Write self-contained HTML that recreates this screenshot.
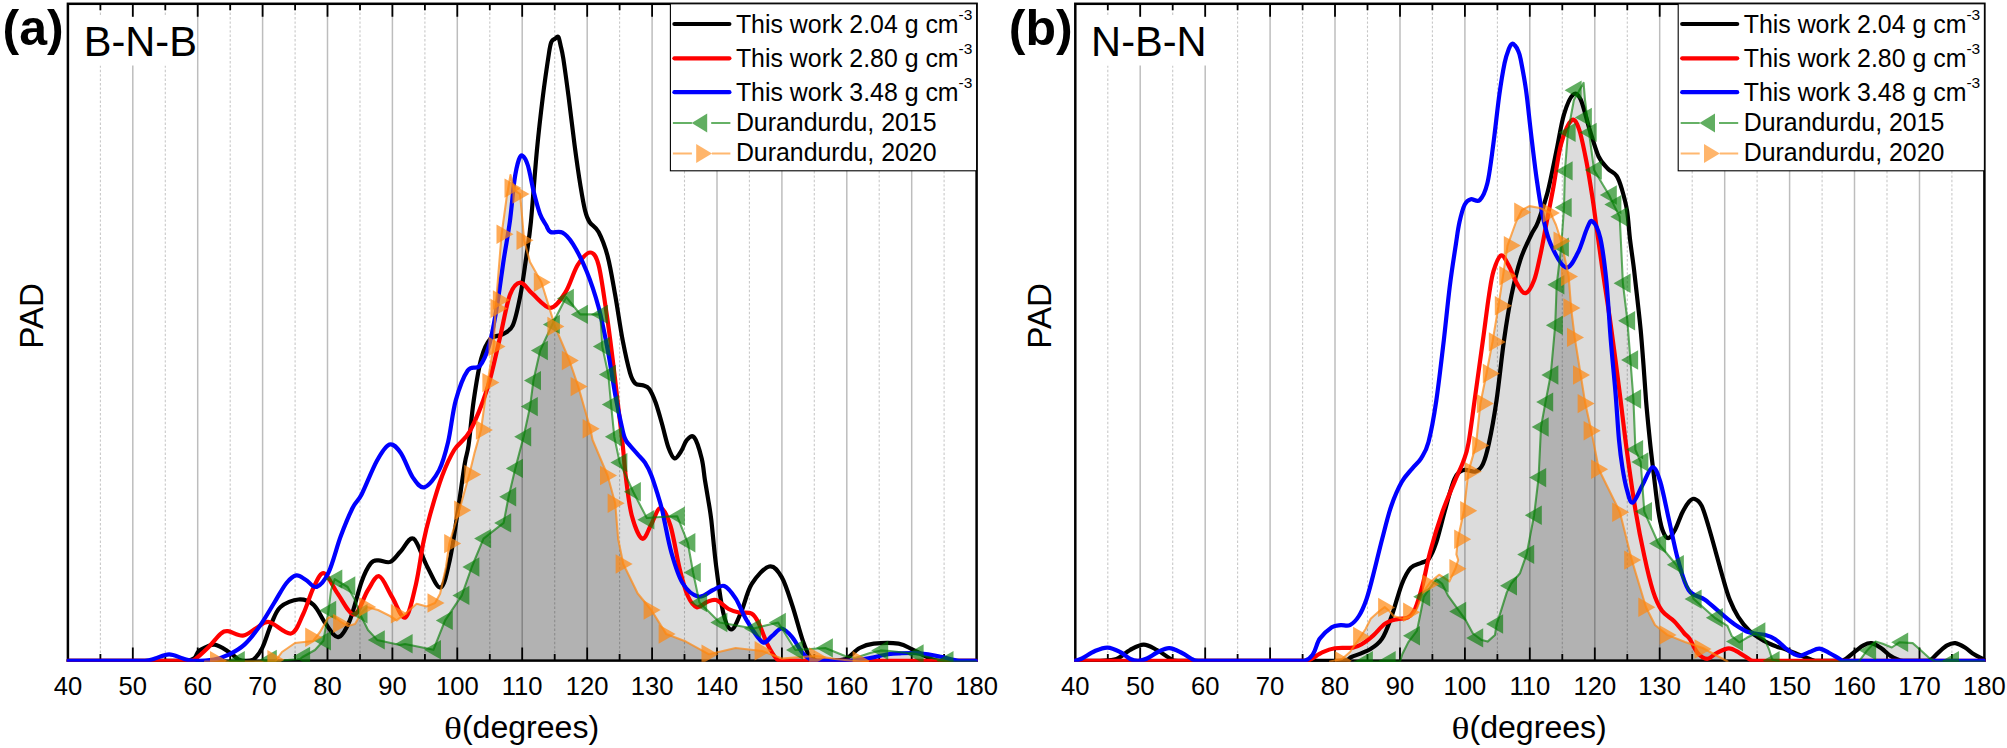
<!DOCTYPE html>
<html lang="en">
<head>
<meta charset="utf-8">
<title>Plane angle distributions: B-N-B and N-B-N</title>
<style>
html,body{margin:0;padding:0;background:#fff;}
body{width:2007px;height:748px;overflow:hidden;font-family:"Liberation Sans",Arial,sans-serif;}
svg{display:block;}
</style>
</head>
<body>
<svg width="2007" height="748" viewBox="0 0 2007 748" font-family="'Liberation Sans', Arial, sans-serif" fill="#000">
<rect width="2007" height="748" fill="#fff"/>
<g id="panel-a">
<clipPath id="clipOa"><path d="M205 661.5L240 661.5L275 661.5L282 652L295 643L313 641L320 632L328 618L334 616L341 622L348 626L355 624L362 612L367 607L378 610L390 616L396.7 620.4L405 614L416.7 603.7L426.8 606.4L435 603L440.1 593.7L446 567L449.3 543.6L459.3 510.2L469.3 474.4L474.4 453.4L481 430L487.5 382.6L493.6 346.5L495.6 308.4L501.6 234.2L507 195L510.5 175L514 190L520.1 194.1L524.1 240.2L530 262L541.4 282.3L555 326.4L569.4 360.5L578.3 386.6L590.3 428.7L592.6 440L607.6 475.5L615.2 503.2L618.2 539.3L623.3 564L637.7 593.5L651.3 610L666.3 634.1L685.9 641.6L709.1 654.3L735.6 648L762.2 651L781.7 658.6L800 657L816.9 656L835 659L860.2 661.5L868 661.5L868 660.8L205 660.8Z"/></clipPath>
<clipPath id="clipFa"><rect x="66.7" y="3.8" width="911.1" height="658"/></clipPath>
<path d="M205 661.5L240 661.5L275 661.5L282 652L295 643L313 641L320 632L328 618L334 616L341 622L348 626L355 624L362 612L367 607L378 610L390 616L396.7 620.4L405 614L416.7 603.7L426.8 606.4L435 603L440.1 593.7L446 567L449.3 543.6L459.3 510.2L469.3 474.4L474.4 453.4L481 430L487.5 382.6L493.6 346.5L495.6 308.4L501.6 234.2L507 195L510.5 175L514 190L520.1 194.1L524.1 240.2L530 262L541.4 282.3L555 326.4L569.4 360.5L578.3 386.6L590.3 428.7L592.6 440L607.6 475.5L615.2 503.2L618.2 539.3L623.3 564L637.7 593.5L651.3 610L666.3 634.1L685.9 641.6L709.1 654.3L735.6 648L762.2 651L781.7 658.6L800 657L816.9 656L835 659L860.2 661.5L868 661.5L868 660.8L205 660.8Z" fill="#dcdcdc"/>
<path d="M225 661.5L269 661.5L300 659L302.5 657L315 650L323.4 640.8L328.6 610.4L331 590L334.7 579.1L347.7 587L355 600L359.9 613.8L368 630L377.2 639.9L399.8 645L405 644L433.4 649.8L445.1 620.4L461.8 595.4L471.8 567L483.5 538.6L503.6 522.9L508.6 496.8L515.3 468.4L523.6 436.7L530.1 406.6L533.4 380.6L540.2 350.5L552.2 324.4L566.2 297L580.3 314.4L600.3 314.4L602.3 346.5L608.3 374.5L611.1 404.6L614.3 436.7L619.7 462.6L633.2 491.8L646.8 518L660 517L677.2 516.2L687.8 542.8L693.1 572.5L699.5 602.6L719.7 622.5L753.4 628.5L778.2 622.5L795.4 650L825.3 648L845 656L855 658L870 653L880.6 650.4L890 651L916 654L945.9 661.5L976 661.5L976 660.8L225 660.8Z" fill="#dcdcdc"/>
<path d="M225 661.5L269 661.5L300 659L302.5 657L315 650L323.4 640.8L328.6 610.4L331 590L334.7 579.1L347.7 587L355 600L359.9 613.8L368 630L377.2 639.9L399.8 645L405 644L433.4 649.8L445.1 620.4L461.8 595.4L471.8 567L483.5 538.6L503.6 522.9L508.6 496.8L515.3 468.4L523.6 436.7L530.1 406.6L533.4 380.6L540.2 350.5L552.2 324.4L566.2 297L580.3 314.4L600.3 314.4L602.3 346.5L608.3 374.5L611.1 404.6L614.3 436.7L619.7 462.6L633.2 491.8L646.8 518L660 517L677.2 516.2L687.8 542.8L693.1 572.5L699.5 602.6L719.7 622.5L753.4 628.5L778.2 622.5L795.4 650L825.3 648L845 656L855 658L870 653L880.6 650.4L890 651L916 654L945.9 661.5L976 661.5L976 660.8L225 660.8Z" fill="#b2b2b2" clip-path="url(#clipOa)"/>
<path d="M132.8 3.8V660.5M197.7 3.8V660.5M262.6 3.8V660.5M327.5 3.8V660.5M392.4 3.8V660.5M457.3 3.8V660.5M522.2 3.8V660.5M587.2 3.8V660.5M652.1 3.8V660.5M717 3.8V660.5M781.9 3.8V660.5M846.8 3.8V660.5M911.7 3.8V660.5" stroke="#000" stroke-opacity="0.26" stroke-width="1.5" fill="none"/>
<path d="M100.4 3.8V660.5M165.3 3.8V660.5M230.2 3.8V660.5M295.1 3.8V660.5M360 3.8V660.5M424.9 3.8V660.5M489.8 3.8V660.5M554.7 3.8V660.5M619.6 3.8V660.5M684.5 3.8V660.5M749.4 3.8V660.5M814.3 3.8V660.5M879.2 3.8V660.5M944.1 3.8V660.5" stroke="#000" stroke-opacity="0.22" stroke-width="1.1" stroke-dasharray="2.4 2" fill="none"/>
<rect x="81.9" y="17" width="114.7" height="48.5" fill="#fff"/>
<path d="M100.4 3.8v6.5M100.4 660.5v-6.5M132.8 3.8v13M132.8 660.5v-13M165.3 3.8v6.5M165.3 660.5v-6.5M197.7 3.8v13M197.7 660.5v-13M230.2 3.8v6.5M230.2 660.5v-6.5M262.6 3.8v13M262.6 660.5v-13M295.1 3.8v6.5M295.1 660.5v-6.5M327.5 3.8v13M327.5 660.5v-13M360 3.8v6.5M360 660.5v-6.5M392.4 3.8v13M392.4 660.5v-13M424.9 3.8v6.5M424.9 660.5v-6.5M457.3 3.8v13M457.3 660.5v-13M489.8 3.8v6.5M489.8 660.5v-6.5M522.2 3.8v13M522.2 660.5v-13M554.7 3.8v6.5M554.7 660.5v-6.5M587.2 3.8v13M587.2 660.5v-13M619.6 3.8v6.5M619.6 660.5v-6.5M652.1 3.8v13M652.1 660.5v-13M684.5 3.8v6.5M684.5 660.5v-6.5M717 3.8v13M717 660.5v-13M749.4 3.8v6.5M749.4 660.5v-6.5M781.9 3.8v13M781.9 660.5v-13M814.3 3.8v6.5M814.3 660.5v-6.5M846.8 3.8v13M846.8 660.5v-13M879.2 3.8v6.5M879.2 660.5v-6.5M911.7 3.8v13M911.7 660.5v-13M944.1 3.8v6.5M944.1 660.5v-6.5" stroke="#000" stroke-width="1.8" fill="none"/>
<rect x="67.9" y="3.8" width="908.7" height="656.8" fill="none" stroke="#000" stroke-width="2.5"/>
<rect x="670.4" y="3.8" width="306.2" height="167" fill="#fff" stroke="#000" stroke-width="1.1"/>
<g clip-path="url(#clipFa)" fill="none" stroke-linejoin="round" stroke-linecap="round">
<path d="M68 660.8C76.7 660.8 100.2 660.8 120 660.8C139.8 660.8 173.8 660.8 187 660.8C199.2 659.1 194.6 653.4 199.2 650.7C203.8 648 209.3 644.4 214.3 644.6C219.3 644.9 225.3 649.8 229.3 652.2C233.3 654.7 235.5 657.9 238.3 659.3C241.1 660.7 243.5 660.8 246 660.8C248.5 660.8 250.7 660.8 253.4 659.6C256.1 657.4 259.4 653.6 262.4 647.6C265.4 641.6 268.4 630.4 271.4 623.6C274.4 616.8 276 611 280.5 607C285 603 293 599.9 298.5 599.5C304 599.1 309.1 600.9 313.6 604.9C318.1 608.9 321.5 618.2 325.6 623.6C329.7 629 334.2 637.6 338.2 637.1C342.2 636.6 345.8 629.9 349.7 620.6C353.6 611.3 358.2 590.9 361.7 581.4C365.2 571.9 367.9 566.9 370.7 563.4C373.5 559.9 375 560.6 378.3 560.4C381.6 560.1 386.6 563.4 390.3 561.9C394.1 560.4 396.9 555.2 400.8 551.3C404.7 547.4 409.1 536.2 413.5 538.7C417.9 541.2 422.6 558.3 427.1 566.4C431.6 574.5 436.8 588.5 440.6 587.5C444.4 586.5 446.9 572.4 449.7 560.4C452.5 548.4 454.7 531.2 457.2 515.2C459.7 499.2 462.8 475.8 464.7 464.1C466.6 452.4 467.1 455.6 468.6 445C470.1 434.4 471.6 415 473.7 400.6C475.8 386.2 478.5 368.7 481.3 358.4C484.1 348.1 486.8 342.9 490.3 338.9C493.8 334.9 498.6 336.7 502.3 334.4C506.1 332.1 509.8 331.8 512.8 325.3C515.8 318.8 518.1 306.7 520.4 295.2C522.7 283.7 524.6 268.3 526.4 256.1C528.1 243.9 529.1 239.6 530.9 222C532.6 204.4 534.9 171.4 536.9 150.5C538.9 129.6 540.9 112.5 542.9 96.3C544.9 80 547.6 62.1 549 53C550.4 43.9 550.5 44.1 551.5 41.7C552.5 39.3 553.9 39.5 555 38.7C556.1 37.9 557.4 36 558.3 37C559.2 38 559.7 41.4 560.5 45C561.3 48.6 562 50 563.3 58.5C564.6 67 566.6 81.7 568.5 96C570.4 110.3 572.5 129.3 574.5 144.4C576.5 159.5 578.8 175.6 580.6 186.6C582.4 197.6 583.6 204.8 585.1 210.7C586.6 216.6 587.2 218.4 589.5 222C591.8 225.6 595.6 226.3 598.6 232C601.6 237.7 604.8 245.6 607.6 256.1C610.4 266.6 612.7 281.1 615.2 295.2C617.7 309.2 620.2 327.5 622.7 340.4C625.2 353.3 627.9 365.6 630 372.8C632.1 380 633.2 381.4 635.3 383.5C637.4 385.6 640.5 384.3 642.8 385.2C645.1 386.1 647.1 386 649.3 388.9C651.4 391.8 653.6 396.9 655.7 402.8C657.8 408.7 660 416.7 662.1 424.2C664.2 431.7 666.4 442 668.5 447.7C670.6 453.4 672.4 457.9 674.5 458.4C676.6 458.9 679.3 453.9 681.3 450.9C683.3 447.9 684.6 442.4 686.7 440.2C688.9 437.9 691.7 434.4 694.2 437.4C696.7 440.4 699.9 451.3 701.7 458.4C703.5 465.5 703.8 473 704.9 479.8C706 486.6 707 492.3 708.1 499C709.2 505.7 709.9 508.8 711.3 520C712.6 531.2 714.2 551.1 716.2 566.5C718.2 581.9 720.7 602 723.2 612.5C725.7 623 728.4 629.5 731.4 629.5C734.4 629.5 737.6 620 741 612.5C744.4 605 746.9 591.9 751.6 584.2C756.3 576.5 764.3 567.7 769.3 566.5C774.3 565.3 777.9 570.6 781.7 577.1C785.5 583.6 788.8 594.9 792.3 605.5C795.8 616.1 799.9 632.4 802.9 640.9C805.9 649.4 807.6 653.5 810 656.8C812.4 660.1 813.7 660.1 817 660.8C820.3 660.8 825.2 660.8 830 660.8C834.8 660.5 840.6 660.8 845.5 659C850.4 656.9 854.9 650.5 859.6 648C864.3 645.5 867.3 644.4 873.8 643.7C880.3 643 892.1 642.7 898.6 643.7C905.1 644.7 907.5 647.2 912.8 649.7C918.1 652.2 926 656.8 930.5 658.6C935 660.5 932.4 660.4 940 660.8C947.6 660.8 970 660.8 976 660.8" stroke="#000" stroke-width="4.2"/>
<path d="M68 660.8C80 660.8 120 660.8 140 660.8C160 660.8 178.9 660.8 188 660.8C194.7 660.6 191.3 660.8 194.7 659.5C198.1 657.3 203.9 651.8 208.2 647.6C212.5 643.4 217 636.9 220.3 634.1C223.6 631.4 224.1 630.9 227.8 631.1C231.6 631.4 238 636.1 242.8 635.6C247.6 635.1 252 630.4 256.4 628.1C260.8 625.8 263.2 621.1 269 622C274.8 622.9 285.3 634.8 291 633.5C296.7 632.2 299.2 622.2 303 614.5C306.8 606.8 310.1 594.4 313.6 587.5C317.1 580.6 320.1 572.3 324.1 573.3C328.1 574.3 332.6 586.6 337.6 593.5C342.6 600.4 349.2 615 354.2 614.5C359.2 614 363.5 596.9 367.7 590.5C371.9 584.1 375.2 575.3 379.2 576.3C383.2 577.3 387.4 589.6 391.8 596.5C396.2 603.4 401.3 619.5 405.3 617.5C409.3 615.5 412.9 596.9 415.9 584.4C418.9 571.9 421 553.9 423.4 542.3C425.8 530.7 426.9 526 430 515C433.1 504 438.1 486.9 442.1 476.1C446.1 465.3 449.6 457.5 454.2 450C458.8 442.5 464.5 441.2 470 431C475.5 420.8 482.4 403.6 487.3 388.5C492.2 373.4 495.6 355.9 499.3 340.4C503.1 324.8 506.3 304.8 509.8 295.2C513.3 285.6 516.6 282.9 520.4 282.6C524.2 282.4 527.4 289.5 532.4 293.7C537.4 297.9 545 308.1 550.5 307.9C556 307.6 561 299.3 565.5 292.2C570 285.1 573.5 271.7 577.6 265.1C581.7 258.5 586.7 252.5 590.2 252.5C593.7 252.5 596 255.5 598.6 265.1C601.2 274.7 603.8 295.2 606.1 310.3C608.4 325.4 610.2 339.3 612.2 355.4C614.2 371.4 616.5 391.7 618.2 406.6C620 421.5 621.5 433.4 622.7 445C624 456.6 624.2 464.4 625.7 476.1C627.2 487.8 629 504.8 631.7 515.2C634.5 525.6 638.9 537.2 642.2 538.7C645.5 540.2 648.2 529.4 651.3 524.3C654.3 519.2 657.3 507.8 660.5 508C663.7 508.2 667.2 515.5 670.4 525.5C673.6 535.5 676.6 556.3 679.5 568C682.4 579.7 684.7 589 687.6 595.5C690.5 602 693.5 606.1 696.7 607.2C699.9 608.3 703.8 603.2 707 602C710.2 600.8 712.6 598.9 716.2 600.1C719.8 601.3 724.8 606.9 728.6 609C732.4 611.1 735.4 611.7 739.2 612.5C743 613.3 748.4 611.8 751.6 613.6C754.9 615.4 756.1 618.1 758.7 623.2C761.4 628.3 764.5 638.5 767.5 644.4C770.5 650.3 774 655.9 776.4 658.6C778.8 660.8 777.8 660.4 781.7 660.8C785.6 660.8 781.7 660.8 800 660.8C832.4 660.8 946.7 660.8 976 660.8" stroke="#f00" stroke-width="4.2"/>
<path d="M68 660.8C76.7 660.8 107.2 660.8 120 660.8C132.8 660.8 139.2 660.8 145 660.8C150.8 660.4 151 659.6 155 658.5C159 657.4 164.4 654.3 169.1 654.3C173.8 654.3 179 657.4 183 658.5C187 659.6 187.8 660.6 193 660.8C198.2 660.8 207.9 660.6 214 659.5C220.1 658.4 224.2 656.8 229.3 654.3C234.4 651.8 239.4 649.2 244.4 644.6C249.4 640 254.4 633.6 259.4 626.6C264.4 619.6 269.9 609.8 274.4 602.5C278.9 595.2 282.8 587.5 286.5 583C290.2 578.5 293.1 575.9 296.4 575.4C299.6 574.9 302.6 578.1 306 580C309.4 581.9 312.8 588.2 316.6 586.9C320.4 585.6 324.6 580.8 328.6 572.4C332.6 564 336.7 547.1 340.7 536.3C344.7 525.5 349.2 514.7 352.7 507.7C356.2 500.7 357.7 502 361.7 494.2C365.7 486.4 372.2 469.3 376.8 461C381.4 452.7 385.4 445.8 389.4 444.5C393.4 443.2 396.9 447.5 400.8 453C404.7 458.5 408.9 471.9 412.9 477.6C416.8 483.3 420.1 488.4 424.5 487.2C428.9 485.9 435.2 477.6 439.1 470.1C443 462.6 445.3 453.6 448.1 442C450.9 430.4 452.4 412.5 455.7 400.6C459 388.7 463.7 376.3 467.7 370.5C471.7 364.7 476.2 370 479.7 366C483.2 362 486 355.7 488.8 346.4C491.6 337.1 493.8 324.9 496.3 310.3C498.8 295.8 501.6 273.8 503.8 259.1C506.1 244.4 508 235.1 509.8 222C511.6 208.9 512.9 191 514.4 180.6C515.9 170.2 517.5 163.6 518.9 159.5C520.3 155.4 521.3 154.9 522.8 155.9C524.3 156.9 526 159.4 527.9 165.5C529.8 171.6 531.9 184.6 533.9 192.6C535.9 200.6 537.9 208.3 539.9 213.7C541.9 219.1 544.2 221.9 546 225C547.8 228.1 547.8 230.7 550.5 232C553.2 233.3 558.8 230.6 562.5 232.6C566.2 234.6 569 237.7 573 244.1C577 250.5 582.3 260.7 586.6 271.2C590.9 281.7 595.1 294.3 598.6 307.3C602.1 320.3 604.8 334.9 607.6 349.4C610.4 363.9 612.7 380.9 615.2 394.5C617.7 408.1 620.9 423 622.7 430.7C624.5 438.4 624.8 438 626 440.5C627.2 443 628.1 443.3 630 445.6C631.9 447.9 635 451.2 637.5 454.1C640 457 642.7 459.1 645 462.7C647.3 466.3 649.3 470.1 651.4 475.5C653.5 480.9 656 489.1 657.8 494.8C659.6 500.5 661 505.5 662.1 509.7C663.2 513.9 662.6 512.8 664.2 520C665.8 527.2 668.5 542.5 671.5 553C674.5 563.5 678 575.7 682.5 583C687 590.3 693.3 595.4 698.4 596.6C703.5 597.8 708.7 591.8 713 590C717.3 588.2 720.5 584.6 724.3 586C728.1 587.4 731.9 592.8 735.6 598.4C739.3 604 741.9 612.4 746.3 619.6C750.7 626.9 757.9 639.2 762.2 641.9C766.5 644.6 768.8 638.2 772 636C775.2 633.8 778.3 628.3 781.7 628.5C785.1 628.7 788.8 633.2 792.3 637.3C795.8 641.4 799.3 649.4 802.9 653.3C806.5 657.2 809.1 659.5 813.6 660.8C818.1 660.8 823.9 660.8 830 660.8C836.1 660.8 843.3 660.8 850 660.8C856.7 660.3 863.7 659.1 870 658C876.3 656.9 883 655.1 888 654.3C893 653.5 894.7 653.5 900 653.3C905.3 653.1 913.2 652.7 920 653.3C926.8 653.9 934.5 655.5 941 656.8C947.5 658 953 660.1 958.8 660.8C964.6 660.8 973.1 660.8 976 660.8" stroke="#00f" stroke-width="4.2"/>
<path d="M225 661.5L269 661.5L300 659L302.5 657L315 650L323.4 640.8L328.6 610.4L331 590L334.7 579.1L347.7 587L355 600L359.9 613.8L368 630L377.2 639.9L399.8 645L405 644L433.4 649.8L445.1 620.4L461.8 595.4L471.8 567L483.5 538.6L503.6 522.9L508.6 496.8L515.3 468.4L523.6 436.7L530.1 406.6L533.4 380.6L540.2 350.5L552.2 324.4L566.2 297L580.3 314.4L600.3 314.4L602.3 346.5L608.3 374.5L611.1 404.6L614.3 436.7L619.7 462.6L633.2 491.8L646.8 518L660 517L677.2 516.2L687.8 542.8L693.1 572.5L699.5 602.6L719.7 622.5L753.4 628.5L778.2 622.5L795.4 650L825.3 648L845 656L855 658L870 653L880.6 650.4L890 651L916 654L945.9 661.5L976 661.5" stroke="#007d00" stroke-opacity="0.62" stroke-width="2.1"/>
<path d="M205 661.5L240 661.5L275 661.5L282 652L295 643L313 641L320 632L328 618L334 616L341 622L348 626L355 624L362 612L367 607L378 610L390 616L396.7 620.4L405 614L416.7 603.7L426.8 606.4L435 603L440.1 593.7L446 567L449.3 543.6L459.3 510.2L469.3 474.4L474.4 453.4L481 430L487.5 382.6L493.6 346.5L495.6 308.4L501.6 234.2L507 195L510.5 175L514 190L520.1 194.1L524.1 240.2L530 262L541.4 282.3L555 326.4L569.4 360.5L578.3 386.6L590.3 428.7L592.6 440L607.6 475.5L615.2 503.2L618.2 539.3L623.3 564L637.7 593.5L651.3 610L666.3 634.1L685.9 641.6L709.1 654.3L735.6 648L762.2 651L781.7 658.6L800 657L816.9 656L835 659L860.2 661.5L868 661.5" stroke="#ff8810" stroke-opacity="0.7" stroke-width="2.1"/>
<g fill="#007d00" fill-opacity="0.62" stroke="none">
<path d="M227.8 660.8L244.8 651.1L244.8 670.5Z"/>
<path d="M259.8 659.5L276.8 649.8L276.8 669.2Z"/>
<path d="M293.1 656.5L310.1 646.8L310.1 666.2Z"/>
<path d="M314 640.8L331 631.1L331 650.5Z"/>
<path d="M319.2 610.4L336.2 600.7L336.2 620.1Z"/>
<path d="M325.3 579.1L342.3 569.4L342.3 588.8Z"/>
<path d="M338.3 586L355.3 576.3L355.3 595.7Z"/>
<path d="M350.5 613.8L367.5 604.1L367.5 623.5Z"/>
<path d="M367.8 639.9L384.8 630.2L384.8 649.6Z"/>
<path d="M395.6 643.8L412.6 634.1L412.6 653.5Z"/>
<path d="M424 649.8L441 640.1L441 659.5Z"/>
<path d="M435.8 620.4L452.8 610.7L452.8 630.1Z"/>
<path d="M452.4 595.4L469.4 585.7L469.4 605.1Z"/>
<path d="M462.4 567L479.4 557.3L479.4 576.7Z"/>
<path d="M474.1 538.6L491.1 528.9L491.1 548.3Z"/>
<path d="M494.2 522.9L511.2 513.2L511.2 532.6Z"/>
<path d="M499.2 496.8L516.2 487.1L516.2 506.5Z"/>
<path d="M505.9 468.4L522.9 458.7L522.9 478.1Z"/>
<path d="M514.2 436.7L531.2 427L531.2 446.4Z"/>
<path d="M520.8 406.6L537.8 396.9L537.8 416.3Z"/>
<path d="M524 380.6L541 370.9L541 390.3Z"/>
<path d="M530.9 350.5L547.9 340.8L547.9 360.2Z"/>
<path d="M542.9 324.4L559.9 314.7L559.9 334.1Z"/>
<path d="M556.9 298.4L573.9 288.7L573.9 308.1Z"/>
<path d="M570.9 314.4L587.9 304.7L587.9 324.1Z"/>
<path d="M590.9 314.4L607.9 304.7L607.9 324.1Z"/>
<path d="M592.9 346.5L609.9 336.8L609.9 356.2Z"/>
<path d="M598.9 374.5L615.9 364.8L615.9 384.2Z"/>
<path d="M601.8 404.6L618.8 394.9L618.8 414.3Z"/>
<path d="M604.9 436.7L621.9 427L621.9 446.4Z"/>
<path d="M610.4 462.6L627.4 452.9L627.4 472.3Z"/>
<path d="M623.9 491.8L640.9 482.1L640.9 501.5Z"/>
<path d="M637.4 519.7L654.4 510L654.4 529.4Z"/>
<path d="M667.9 516.2L684.9 506.5L684.9 525.9Z"/>
<path d="M678.4 542.8L695.4 533.1L695.4 552.5Z"/>
<path d="M683.8 572.5L700.8 562.8L700.8 582.2Z"/>
<path d="M690.1 602.6L707.1 592.9L707.1 612.3Z"/>
<path d="M710.4 622.5L727.4 612.8L727.4 632.2Z"/>
<path d="M744 628.5L761 618.8L761 638.2Z"/>
<path d="M768.9 622.5L785.9 612.8L785.9 632.2Z"/>
<path d="M786 650L803 640.3L803 659.7Z"/>
<path d="M815.9 647.9L832.9 638.2L832.9 657.6Z"/>
<path d="M871.2 650.4L888.2 640.7L888.2 660.1Z"/>
<path d="M906.6 654L923.6 644.3L923.6 663.7Z"/>
<path d="M936.5 660.8L953.5 651.1L953.5 670.5Z"/>
</g>
<g fill="#ff8810" fill-opacity="0.7" stroke="none">
<path d="M227 660.8L210 651.1L210 670.5Z"/>
<path d="M284.4 659.8L267.4 650.1L267.4 669.5Z"/>
<path d="M322.2 637.3L305.2 627.6L305.2 647Z"/>
<path d="M350.1 623.4L333.1 613.7L333.1 633.1Z"/>
<path d="M376.2 606.9L359.2 597.2L359.2 616.6Z"/>
<path d="M407.8 613.7L390.8 604L390.8 623.4Z"/>
<path d="M444.5 603L427.5 593.3L427.5 612.7Z"/>
<path d="M461.2 543.6L444.2 533.9L444.2 553.3Z"/>
<path d="M471.2 510.2L454.2 500.5L454.2 519.9Z"/>
<path d="M481.2 474.4L464.2 464.7L464.2 484.1Z"/>
<path d="M492.9 430L475.9 420.3L475.9 439.7Z"/>
<path d="M499.4 382.6L482.4 372.9L482.4 392.3Z"/>
<path d="M505.5 346.5L488.5 336.8L488.5 356.2Z"/>
<path d="M507.5 308.4L490.5 298.7L490.5 318.1Z"/>
<path d="M509.9 300L492.9 290.3L492.9 309.7Z"/>
<path d="M513.5 234.2L496.5 224.5L496.5 243.9Z"/>
<path d="M521.5 188.1L504.5 178.4L504.5 197.8Z"/>
<path d="M529.5 194.1L512.5 184.4L512.5 203.8Z"/>
<path d="M533.5 240.2L516.5 230.5L516.5 249.9Z"/>
<path d="M550.8 282.3L533.8 272.6L533.8 292Z"/>
<path d="M564.4 326.4L547.4 316.7L547.4 336.1Z"/>
<path d="M578.8 360.5L561.8 350.8L561.8 370.2Z"/>
<path d="M587.6 386.6L570.6 376.9L570.6 396.3Z"/>
<path d="M599.6 428.7L582.6 419L582.6 438.4Z"/>
<path d="M617 475.5L600 465.8L600 485.2Z"/>
<path d="M624.6 503.2L607.6 493.5L607.6 512.9Z"/>
<path d="M632.6 564L615.6 554.3L615.6 573.7Z"/>
<path d="M660.6 610L643.6 600.3L643.6 619.7Z"/>
<path d="M675.6 634.1L658.6 624.4L658.6 643.8Z"/>
<path d="M718.5 654.3L701.5 644.6L701.5 664Z"/>
<path d="M771.6 650.8L754.6 641.1L754.6 660.5Z"/>
<path d="M826.2 657L809.2 647.3L809.2 666.7Z"/>
<path d="M869.6 660.8L852.6 651.1L852.6 670.5Z"/>
</g>
</g>
<path d="M674.4 24H729.4" stroke="#000" stroke-width="4.2" stroke-linecap="round"/>
<path d="M674.4 58.3H729.4" stroke="#f00" stroke-width="4.2" stroke-linecap="round"/>
<path d="M674.4 92.2H729.4" stroke="#00f" stroke-width="4.2" stroke-linecap="round"/>
<path d="M672.9 123H691.9M711.2 123H730.4" stroke="#007d00" stroke-opacity="0.6" stroke-width="1.8"/>
<path d="M691.7 123L707.2 113.4L707.2 132.6Z" fill="#007d00" fill-opacity="0.62"/>
<path d="M672.9 153.5H691.9M711.9 153.5H730.4" stroke="#ff8810" stroke-opacity="0.6" stroke-width="1.8"/>
<path d="M712 153.5L696.2 143.9L696.2 163.1Z" fill="#ff8810" fill-opacity="0.62"/>
<text x="735.9" y="32.6" font-size="24.9">This work 2.04 g cm<tspan font-size="15.5" dy="-12.3">-3</tspan></text>
<text x="735.9" y="66.6" font-size="24.9">This work 2.80 g cm<tspan font-size="15.5" dy="-12.3">-3</tspan></text>
<text x="735.9" y="100.5" font-size="24.9">This work 3.48 g cm<tspan font-size="15.5" dy="-12.3">-3</tspan></text>
<text x="735.9" y="130.6" font-size="24.9">Durandurdu, 2015</text>
<text x="735.9" y="161.2" font-size="24.9">Durandurdu, 2020</text>
<text x="67.9" y="694.8" font-size="25.6" text-anchor="middle">40</text>
<text x="132.8" y="694.8" font-size="25.6" text-anchor="middle">50</text>
<text x="197.7" y="694.8" font-size="25.6" text-anchor="middle">60</text>
<text x="262.6" y="694.8" font-size="25.6" text-anchor="middle">70</text>
<text x="327.5" y="694.8" font-size="25.6" text-anchor="middle">80</text>
<text x="392.4" y="694.8" font-size="25.6" text-anchor="middle">90</text>
<text x="457.3" y="694.8" font-size="25.6" text-anchor="middle">100</text>
<text x="522.2" y="694.8" font-size="25.6" text-anchor="middle">110</text>
<text x="587.2" y="694.8" font-size="25.6" text-anchor="middle">120</text>
<text x="652.1" y="694.8" font-size="25.6" text-anchor="middle">130</text>
<text x="717" y="694.8" font-size="25.6" text-anchor="middle">140</text>
<text x="781.9" y="694.8" font-size="25.6" text-anchor="middle">150</text>
<text x="846.8" y="694.8" font-size="25.6" text-anchor="middle">160</text>
<text x="911.7" y="694.8" font-size="25.6" text-anchor="middle">170</text>
<text x="976.6" y="694.8" font-size="25.6" text-anchor="middle">180</text>
<text transform="translate(443.9 738.9) scale(1.17 1)" font-size="32" font-family="'Liberation Serif', serif">θ</text>
<text x="461.9" y="738.3" font-size="32.1">(degrees)</text>
<text transform="translate(43.3 315.9) rotate(-90)" font-size="33.2" text-anchor="middle">PAD</text>
<text x="63.7" y="45" font-size="50" font-weight="bold" text-anchor="end">(a)</text>
<text x="83.7" y="56.2" font-size="41.6">B-N-B</text>
</g>
<g id="panel-b">
<clipPath id="clipOb"><path d="M1330 661.5L1342 659L1350 652L1361 636L1365.6 629L1370.7 618.8L1378.8 611.5L1384.7 607L1389.1 610.7L1393.5 615.9L1402.4 618.8L1411.2 616.6L1417 608.5L1422.9 592.4L1430.3 582L1439.1 574.7L1445 578.4L1449.4 581.3L1455.3 568.8L1458.2 560L1456.4 554.4L1457.9 539.3L1463.9 510.7L1468.4 471.6L1475.9 445.4L1480.4 403.6L1486.5 373.5L1492.5 341.9L1498.5 305.8L1503 275.7L1507.5 245.6L1516 222L1521.9 210L1529.4 206.1L1540 208L1550.5 213L1556 225L1561.2 241.1L1568.7 276.6L1571.1 307.9L1574.7 337.4L1580.7 375L1585.3 403.6L1591.3 430.7L1598.8 469.2L1610 492L1619.9 512.2L1631.9 560.4L1646 607.2L1655 625L1667.3 634.9L1685 642L1702.7 648L1727.5 661.5L1727.5 660.8L1330 660.8Z"/></clipPath>
<clipPath id="clipFb"><rect x="1074.1" y="3.8" width="911.5" height="658"/></clipPath>
<path d="M1330 661.5L1342 659L1350 652L1361 636L1365.6 629L1370.7 618.8L1378.8 611.5L1384.7 607L1389.1 610.7L1393.5 615.9L1402.4 618.8L1411.2 616.6L1417 608.5L1422.9 592.4L1430.3 582L1439.1 574.7L1445 578.4L1449.4 581.3L1455.3 568.8L1458.2 560L1456.4 554.4L1457.9 539.3L1463.9 510.7L1468.4 471.6L1475.9 445.4L1480.4 403.6L1486.5 373.5L1492.5 341.9L1498.5 305.8L1503 275.7L1507.5 245.6L1516 222L1521.9 210L1529.4 206.1L1540 208L1550.5 213L1556 225L1561.2 241.1L1568.7 276.6L1571.1 307.9L1574.7 337.4L1580.7 375L1585.3 403.6L1591.3 430.7L1598.8 469.2L1610 492L1619.9 512.2L1631.9 560.4L1646 607.2L1655 625L1667.3 634.9L1685 642L1702.7 648L1727.5 661.5L1727.5 660.8L1330 660.8Z" fill="#dcdcdc"/>
<path d="M1355 661.5L1400 661.5L1402.4 654L1408.2 642.4L1417 630.6L1421.5 608.5L1423.7 596.8L1428.8 589.4L1436.2 579.1L1442 583.5L1447.9 595.3L1455.3 605.6L1464.9 618.8L1472.9 633.5L1481.8 640.1L1487.6 641.6L1495 635L1496.5 624.7L1499.4 615.9L1506.8 592.4L1511.2 583.5L1520 573.2L1526.6 554.4L1534.1 515.2L1538.6 477.6L1541 427L1545.5 402.1L1550.7 375L1555.2 325.3L1556.7 284.7L1561.2 247.1L1564 207.6L1564.9 170.9L1567.9 132.4L1573.9 100L1583.6 82.8L1585 100L1589 132.4L1594.1 170L1603 185L1609.1 195L1613.7 204.6L1619.7 216.7L1622.9 283.2L1627.4 320.8L1630.4 360L1633.4 399L1635.4 449.6L1640.7 462L1644.3 511.6L1658.4 543.5L1676.2 564.7L1693.9 599.1L1715 618L1727.4 625.9L1731.9 636.3L1739.3 642.3L1746.8 637.8L1755.8 633.3L1764.7 639.3L1769.2 649.8L1772.2 659.5L1780 661.5L1858.9 661.5L1866.4 651.3L1875.4 641.6L1882.8 643.8L1891.8 647.5L1899.3 642.3L1912.7 643.1L1920.2 649.8L1929.2 658L1935 661.5L1984 661.5L1984 660.8L1355 660.8Z" fill="#dcdcdc"/>
<path d="M1355 661.5L1400 661.5L1402.4 654L1408.2 642.4L1417 630.6L1421.5 608.5L1423.7 596.8L1428.8 589.4L1436.2 579.1L1442 583.5L1447.9 595.3L1455.3 605.6L1464.9 618.8L1472.9 633.5L1481.8 640.1L1487.6 641.6L1495 635L1496.5 624.7L1499.4 615.9L1506.8 592.4L1511.2 583.5L1520 573.2L1526.6 554.4L1534.1 515.2L1538.6 477.6L1541 427L1545.5 402.1L1550.7 375L1555.2 325.3L1556.7 284.7L1561.2 247.1L1564 207.6L1564.9 170.9L1567.9 132.4L1573.9 100L1583.6 82.8L1585 100L1589 132.4L1594.1 170L1603 185L1609.1 195L1613.7 204.6L1619.7 216.7L1622.9 283.2L1627.4 320.8L1630.4 360L1633.4 399L1635.4 449.6L1640.7 462L1644.3 511.6L1658.4 543.5L1676.2 564.7L1693.9 599.1L1715 618L1727.4 625.9L1731.9 636.3L1739.3 642.3L1746.8 637.8L1755.8 633.3L1764.7 639.3L1769.2 649.8L1772.2 659.5L1780 661.5L1858.9 661.5L1866.4 651.3L1875.4 641.6L1882.8 643.8L1891.8 647.5L1899.3 642.3L1912.7 643.1L1920.2 649.8L1929.2 658L1935 661.5L1984 661.5L1984 660.8L1355 660.8Z" fill="#b2b2b2" clip-path="url(#clipOb)"/>
<path d="M1140.2 3.8V660.5M1205.2 3.8V660.5M1270.1 3.8V660.5M1335 3.8V660.5M1400 3.8V660.5M1464.9 3.8V660.5M1529.8 3.8V660.5M1594.8 3.8V660.5M1659.7 3.8V660.5M1724.7 3.8V660.5M1789.6 3.8V660.5M1854.5 3.8V660.5M1919.5 3.8V660.5" stroke="#000" stroke-opacity="0.26" stroke-width="1.5" fill="none"/>
<path d="M1107.8 3.8V660.5M1172.7 3.8V660.5M1237.6 3.8V660.5M1302.6 3.8V660.5M1367.5 3.8V660.5M1432.4 3.8V660.5M1497.4 3.8V660.5M1562.3 3.8V660.5M1627.3 3.8V660.5M1692.2 3.8V660.5M1757.1 3.8V660.5M1822.1 3.8V660.5M1887 3.8V660.5M1951.9 3.8V660.5" stroke="#000" stroke-opacity="0.22" stroke-width="1.1" stroke-dasharray="2.4 2" fill="none"/>
<rect x="1089.3" y="17" width="117.5" height="48.5" fill="#fff"/>
<path d="M1107.8 3.8v6.5M1107.8 660.5v-6.5M1140.2 3.8v13M1140.2 660.5v-13M1172.7 3.8v6.5M1172.7 660.5v-6.5M1205.2 3.8v13M1205.2 660.5v-13M1237.6 3.8v6.5M1237.6 660.5v-6.5M1270.1 3.8v13M1270.1 660.5v-13M1302.6 3.8v6.5M1302.6 660.5v-6.5M1335 3.8v13M1335 660.5v-13M1367.5 3.8v6.5M1367.5 660.5v-6.5M1400 3.8v13M1400 660.5v-13M1432.4 3.8v6.5M1432.4 660.5v-6.5M1464.9 3.8v13M1464.9 660.5v-13M1497.4 3.8v6.5M1497.4 660.5v-6.5M1529.8 3.8v13M1529.8 660.5v-13M1562.3 3.8v6.5M1562.3 660.5v-6.5M1594.8 3.8v13M1594.8 660.5v-13M1627.3 3.8v6.5M1627.3 660.5v-6.5M1659.7 3.8v13M1659.7 660.5v-13M1692.2 3.8v6.5M1692.2 660.5v-6.5M1724.7 3.8v13M1724.7 660.5v-13M1757.1 3.8v6.5M1757.1 660.5v-6.5M1789.6 3.8v13M1789.6 660.5v-13M1822.1 3.8v6.5M1822.1 660.5v-6.5M1854.5 3.8v13M1854.5 660.5v-13M1887 3.8v6.5M1887 660.5v-6.5M1919.5 3.8v13M1919.5 660.5v-13M1951.9 3.8v6.5M1951.9 660.5v-6.5" stroke="#000" stroke-width="1.8" fill="none"/>
<rect x="1075.3" y="3.8" width="909.1" height="656.8" fill="none" stroke="#000" stroke-width="2.5"/>
<rect x="1678.2" y="3.8" width="306.2" height="167" fill="#fff" stroke="#000" stroke-width="1.1"/>
<g clip-path="url(#clipFb)" fill="none" stroke-linejoin="round" stroke-linecap="round">
<path d="M1075 660.8C1079.2 660.8 1093.1 660.8 1100 660.8C1106.9 660.5 1111.6 660.8 1116.6 659C1121.6 657.2 1125.5 652.4 1130 650C1134.5 647.6 1139.2 644.6 1143.7 644.6C1148.2 644.6 1152.7 647.8 1157 650C1161.3 652.2 1165.8 656.2 1169.3 658C1172.8 659.8 1169.3 660.3 1178 660.8C1191.5 660.8 1223 660.8 1250 660.8C1277 660.8 1323 660.8 1340 660.8C1352 660.1 1347 658.6 1352 656.7C1357 654.8 1365.1 652.2 1370.1 649.2C1375.1 646.2 1378.6 643.9 1382.1 638.6C1385.6 633.3 1387.9 626.5 1391.2 617.5C1394.5 608.5 1398.5 592.7 1401.7 584.4C1405 576.1 1407.4 571.5 1410.7 567.9C1414 564.3 1418.3 564.3 1421.3 562.8C1424.3 561.3 1426.3 562.3 1428.8 558.9C1431.3 555.5 1433.5 550.6 1436.3 542.3C1439 534 1442.3 519.7 1445.3 509.2C1448.3 498.7 1451.4 485.6 1454.4 479.1C1457.4 472.6 1459.9 471.4 1463.4 470.1C1466.9 468.9 1472.2 472.6 1475.4 471.6C1478.7 470.6 1480.6 468.9 1482.9 464.1C1485.2 459.3 1486.7 453.6 1489 443C1491.3 432.4 1494 417.7 1496.5 400.6C1499 383.5 1501.5 358 1504 340.4C1506.5 322.8 1508.7 308.8 1511.5 295.2C1514.3 281.6 1517.3 269.1 1520.6 259.1C1523.9 249.1 1528.2 241.2 1531.1 235C1534 228.8 1535.3 229.1 1538 222C1540.7 214.9 1544.4 204.5 1547.5 192.6C1550.6 180.7 1553.8 163.5 1556.5 150.5C1559.2 137.5 1561.2 123.7 1564 114.4C1566.8 105.1 1570.2 97.3 1573 94.8C1575.8 92.3 1577.8 93.5 1580.6 99.3C1583.4 105.1 1586.6 119.9 1589.6 129.4C1592.6 138.9 1595.6 150 1598.6 156.5C1601.6 163 1604.6 165.2 1607.6 168.5C1610.6 171.8 1614.3 172.4 1616.7 176C1619.1 179.6 1620.4 184.2 1622.1 190C1623.8 195.8 1625.8 202.7 1627.1 211C1628.4 219.3 1628.9 230.2 1630.1 240.1C1631.3 250 1632.9 260.2 1634.1 270.2C1635.3 280.2 1636.4 290.2 1637.5 300.2C1638.6 310.2 1639.7 319.5 1640.7 330.3C1641.7 341.1 1642.6 353.4 1643.5 365C1644.4 376.6 1645 387.5 1646 400C1647 412.5 1648.5 427.2 1649.8 440C1651.1 452.8 1652.6 464.8 1654 476.5C1655.4 488.2 1656.8 501.2 1658.2 510.1C1659.6 519 1660.8 525.1 1662.4 529.8C1664.1 534.5 1666 538.2 1668.1 538.2C1670.2 538.2 1672.8 534 1675.1 529.8C1677.4 525.6 1679.8 517.7 1682.1 513C1684.4 508.3 1687 504.1 1689.1 501.7C1691.2 499.3 1692.6 498.2 1694.7 498.9C1696.8 499.6 1699.4 501.2 1701.7 505.9C1704 510.6 1706.4 519.3 1708.7 527C1711 534.7 1713.5 543.8 1715.8 552.2C1718.1 560.6 1720.5 569.5 1722.8 577.5C1725.1 585.5 1727.2 593.4 1729.8 599.9C1732.4 606.4 1734.9 611.6 1738.2 616.8C1741.5 621.9 1745.2 626.8 1749.4 630.8C1753.6 634.8 1758.8 637.9 1763.5 640.6C1768.2 643.3 1774.3 645.7 1777.5 647C1780.7 648.3 1779.4 647.1 1782.7 648.3C1786 649.5 1793.1 652.5 1797.6 654.3C1802.1 656.1 1806.7 657.9 1809.6 659C1812.5 660.1 1811.6 660.5 1815 660.8C1818.4 660.8 1825.4 660.8 1830 660.8C1834.6 660.8 1838.4 660.8 1842.5 660.8C1846.6 659.3 1850.9 654.6 1854.4 652C1857.9 649.4 1860.5 646.8 1863.4 645.3C1866.3 643.8 1868.6 642.6 1871.6 643.1C1874.6 643.6 1878.2 646.2 1881.3 648.3C1884.4 650.4 1887.5 653.9 1890.3 655.8C1893 657.7 1895.7 658.7 1897.8 659.5C1899.9 660.3 1899.3 660.6 1903 660.8C1906.7 660.8 1915.6 660.8 1920 660.8C1924.4 660.8 1926.2 660.8 1929.2 660.8C1932.2 659.5 1935.1 655.4 1938.1 652.8C1941.1 650.2 1944.2 646.9 1947.1 645.3C1950 643.7 1952.3 642.7 1955.3 643.1C1958.3 643.5 1961.9 645.6 1965 647.5C1968.1 649.4 1971 652.4 1974 654.3C1977 656.2 1981.2 657.9 1983 659C1984.8 660.1 1984.7 660.5 1985 660.8" stroke="#000" stroke-width="4.2"/>
<path d="M1075 660.8C1095.8 660.8 1162.5 660.8 1200 660.8C1237.5 660.8 1282 660.8 1300 660.8C1307.7 660.8 1303.9 660.8 1307.7 660.8C1311.5 659.4 1318.3 654.3 1322.8 652.2C1327.3 650.1 1329.8 649 1334.8 648.2C1339.8 647.4 1348.4 648.3 1352.9 647.6C1357.4 646.9 1358.6 646 1362 644C1365.4 642 1369.2 639 1373.1 635.6C1376.9 632.2 1381.1 626.4 1385.1 623.6C1389.1 620.9 1393.4 620.1 1397.2 619.1C1401 618.1 1404.7 619.3 1407.7 617.5C1410.7 615.7 1412.7 614 1415.2 608.5C1417.7 603 1420.3 593.9 1422.8 584.4C1425.3 574.9 1427 563.3 1430.3 551.3C1433.5 539.3 1438.3 523.7 1442.3 512.2C1446.3 500.7 1450.9 490.6 1454.4 482.1C1457.9 473.6 1461.1 467.6 1463.4 461.1C1465.8 454.6 1466.5 454.1 1468.5 443C1470.5 431.9 1473 411.6 1475.4 394.5C1477.8 377.4 1480.6 356.9 1482.9 340.4C1485.2 323.8 1487.2 306.7 1489 295.2C1490.8 283.7 1491.5 277.8 1493.5 271.2C1495.5 264.6 1498.5 256.5 1501 255.5C1503.5 254.5 1505.7 260.2 1508.5 265.1C1511.3 270 1514.7 280 1517.6 284.7C1520.5 289.4 1523 293.9 1525.7 293.1C1528.5 292.4 1531.7 286.4 1534.1 280.2C1536.5 274 1538 265.6 1540.1 256.1C1542.2 246.6 1544.3 234.6 1546.5 223C1548.7 211.4 1551.1 199.7 1553.5 186.6C1555.9 173.5 1558 155.4 1561 144.4C1564 133.4 1568.5 122.9 1571.5 120.4C1574.5 117.9 1576.6 122.4 1579.1 129.4C1581.6 136.4 1584.3 151 1586.6 162.5C1588.8 174 1591 188.2 1592.6 198.6C1594.2 209 1594.7 213.9 1596.2 225C1597.7 236.1 1599.4 248.3 1601.8 265C1604.2 281.7 1607.8 303.7 1610.8 325.3C1613.8 346.9 1617.3 373.9 1619.9 394.5C1622.5 415.1 1624 429.8 1626.6 449C1629.2 468.2 1632.5 492 1635.4 509.8C1638.4 527.6 1641.3 542.3 1644.3 555.9C1647.2 569.5 1650.1 582.1 1653.1 591.3C1656 600.4 1658.5 605.8 1662 610.8C1665.5 615.8 1670.7 617.7 1674.4 621.4C1678.1 625.1 1681.4 630 1684 633C1686.6 636 1687.8 636 1690 639.3C1692.2 642.6 1694.6 649.5 1697.5 652.8C1700.4 656 1704 658.8 1707.2 658.8C1710.4 658.8 1713.3 654.5 1716.9 652.8C1720.5 651 1725.2 648.3 1728.9 648.3C1732.6 648.3 1735.8 650.9 1739.3 652.8C1742.8 654.7 1747.3 658.2 1749.8 659.5C1752.2 660.8 1749.8 660.6 1754 660.8C1762.4 660.8 1761.7 660.8 1800 660.8C1838.3 660.8 1953.3 660.8 1984 660.8" stroke="#f00" stroke-width="4.2"/>
<path d="M1075 660.8C1076.2 660.4 1078.7 660.1 1082 658.5C1085.3 656.9 1090.7 652.8 1095 651C1099.3 649.2 1103.4 647.4 1107.6 647.6C1111.8 647.8 1116.2 650.1 1120 652C1123.8 653.9 1127.2 657.5 1130.2 659C1133.2 660.5 1135.2 660.8 1138 660.8C1140.8 660.7 1143.7 660 1147 658.5C1150.3 657 1154.3 653.7 1158 652C1161.7 650.3 1165.3 648 1169.3 648.2C1173.3 648.4 1178 651.1 1182 653C1186 654.9 1190.4 658.4 1193.4 659.7C1196.4 660.8 1193.4 660.6 1200 660.8C1209.4 660.8 1232.5 660.8 1250 660.8C1267.5 660.8 1293.1 660.8 1304.7 660.8C1316.3 657.1 1315.3 644.2 1319.8 638.6C1324.3 633 1328.3 629.5 1331.8 627.2C1335.3 625 1337.8 625.5 1340.8 625.1C1343.8 624.8 1346.9 626.6 1349.9 625.1C1352.9 623.6 1356.2 620.3 1358.9 616C1361.7 611.7 1364 606.3 1366.4 599.5C1368.8 592.7 1370.5 585.4 1373.1 575.4C1375.7 565.4 1379.1 550.8 1382.1 539.3C1385.1 527.8 1387.9 515.7 1391.2 506.2C1394.5 496.7 1398.2 488.4 1401.7 482.1C1405.2 475.8 1408.9 472.6 1412.2 468.6C1415.5 464.6 1418.6 462.5 1421.3 458.1C1424 453.7 1426 451.6 1428.5 442C1431 432.4 1433.8 417.5 1436.3 400.6C1438.8 383.7 1441.5 359.5 1443.8 340.4C1446 321.3 1447.8 302.2 1449.8 286.2C1451.8 270.1 1454.3 254.8 1455.9 244.1C1457.5 233.4 1458 228.6 1459.5 222C1461 215.4 1462.8 208.4 1464.7 204.6C1466.6 200.8 1468.2 199.9 1470.7 199.2C1473.2 198.4 1476.9 202.7 1479.7 200.1C1482.5 197.5 1485 192.9 1487.3 183.6C1489.6 174.3 1491.3 159.2 1493.3 144.4C1495.3 129.6 1497.4 108.6 1499.3 95C1501.2 81.4 1503 70.8 1504.6 63C1506.2 55.2 1507.8 51.7 1509 48.5C1510.2 45.3 1511.1 44.3 1512.1 43.8C1513.1 43.3 1514 44.4 1515 45.5C1516 46.6 1517.1 48.2 1518 50.5C1518.9 52.8 1519.3 52.4 1520.6 59C1521.9 65.6 1524.3 77.8 1526 90C1527.7 102.2 1529.1 117.3 1530.9 132.4C1532.7 147.5 1534.9 166.6 1536.9 180.6C1538.9 194.6 1540.6 206.1 1542.9 216.7C1545.2 227.3 1546.9 235.6 1550.7 244.1C1554.5 252.6 1561.2 266 1565.7 267.5C1570.2 269 1574.2 259.5 1577.7 253.1C1581.2 246.7 1584.4 234.3 1586.8 229C1589.2 223.7 1590 219.8 1592.3 221.3C1594.5 222.8 1598 228.3 1600.3 238.1C1602.6 247.9 1604.5 263.1 1606.3 280.2C1608 297.2 1609.3 321.8 1610.8 340.4C1612.3 358.9 1614 374.9 1615.4 391.5C1616.8 408.1 1617.8 427.2 1619 440C1620.2 452.8 1621.2 459.9 1622.5 468C1623.8 476.1 1624.9 482.8 1626.6 488.6C1628.3 494.4 1629.9 503.3 1632.6 502.7C1635.2 502.1 1639.2 490.9 1642.5 485C1645.8 479.1 1649.5 467.9 1652.4 467.3C1655.4 466.7 1657.4 472.6 1660.2 481.5C1663 490.4 1666.1 507.4 1669.1 520.4C1672 533.4 1674.7 547.8 1677.9 559.4C1681.2 571 1684.1 583.3 1688.6 590C1693.1 596.7 1699.7 596 1704.9 599.7C1710.1 603.4 1714.9 608.3 1719.9 612.4C1724.9 616.5 1729.8 621 1734.8 624.4C1739.8 627.8 1744.8 630.9 1749.8 632.6C1754.8 634.3 1760.5 633.7 1764.7 634.8C1768.9 635.9 1771.7 637 1775.2 639.3C1778.7 641.5 1782.5 645.8 1785.7 648.3C1788.9 650.8 1792.1 653 1794.6 654.3C1797.1 655.5 1798.1 656.2 1800.6 655.8C1803.1 655.4 1806.5 653.2 1809.6 652C1812.7 650.8 1816.1 648.6 1819.3 648.7C1822.5 648.8 1825.6 651.1 1829 652.8C1832.4 654.5 1837 657.5 1839.5 658.8C1842 660.1 1840.6 660.5 1844 660.8C1847.4 660.8 1850.7 660.8 1860 660.8C1869.3 660.8 1879.3 660.8 1900 660.8C1920.7 660.8 1970 660.8 1984 660.8" stroke="#00f" stroke-width="4.2"/>
<path d="M1355 661.5L1400 661.5L1402.4 654L1408.2 642.4L1417 630.6L1421.5 608.5L1423.7 596.8L1428.8 589.4L1436.2 579.1L1442 583.5L1447.9 595.3L1455.3 605.6L1464.9 618.8L1472.9 633.5L1481.8 640.1L1487.6 641.6L1495 635L1496.5 624.7L1499.4 615.9L1506.8 592.4L1511.2 583.5L1520 573.2L1526.6 554.4L1534.1 515.2L1538.6 477.6L1541 427L1545.5 402.1L1550.7 375L1555.2 325.3L1556.7 284.7L1561.2 247.1L1564 207.6L1564.9 170.9L1567.9 132.4L1573.9 100L1583.6 82.8L1585 100L1589 132.4L1594.1 170L1603 185L1609.1 195L1613.7 204.6L1619.7 216.7L1622.9 283.2L1627.4 320.8L1630.4 360L1633.4 399L1635.4 449.6L1640.7 462L1644.3 511.6L1658.4 543.5L1676.2 564.7L1693.9 599.1L1715 618L1727.4 625.9L1731.9 636.3L1739.3 642.3L1746.8 637.8L1755.8 633.3L1764.7 639.3L1769.2 649.8L1772.2 659.5L1780 661.5L1858.9 661.5L1866.4 651.3L1875.4 641.6L1882.8 643.8L1891.8 647.5L1899.3 642.3L1912.7 643.1L1920.2 649.8L1929.2 658L1935 661.5L1984 661.5" stroke="#007d00" stroke-opacity="0.62" stroke-width="2.1"/>
<path d="M1330 661.5L1342 659L1350 652L1361 636L1365.6 629L1370.7 618.8L1378.8 611.5L1384.7 607L1389.1 610.7L1393.5 615.9L1402.4 618.8L1411.2 616.6L1417 608.5L1422.9 592.4L1430.3 582L1439.1 574.7L1445 578.4L1449.4 581.3L1455.3 568.8L1458.2 560L1456.4 554.4L1457.9 539.3L1463.9 510.7L1468.4 471.6L1475.9 445.4L1480.4 403.6L1486.5 373.5L1492.5 341.9L1498.5 305.8L1503 275.7L1507.5 245.6L1516 222L1521.9 210L1529.4 206.1L1540 208L1550.5 213L1556 225L1561.2 241.1L1568.7 276.6L1571.1 307.9L1574.7 337.4L1580.7 375L1585.3 403.6L1591.3 430.7L1598.8 469.2L1610 492L1619.9 512.2L1631.9 560.4L1646 607.2L1655 625L1667.3 634.9L1685 642L1702.7 648L1727.5 661.5" stroke="#ff8810" stroke-opacity="0.7" stroke-width="2.1"/>
<g fill="#007d00" fill-opacity="0.62" stroke="none">
<path d="M1355.9 660.8L1372.9 651.1L1372.9 670.5Z"/>
<path d="M1378.7 660.8L1395.7 651.1L1395.7 670.5Z"/>
<path d="M1403 635.7L1420 626L1420 645.4Z"/>
<path d="M1413.2 596.8L1430.2 587.1L1430.2 606.5Z"/>
<path d="M1431.6 582.8L1448.6 573.1L1448.6 592.5Z"/>
<path d="M1449.2 611.5L1466.2 601.8L1466.2 621.2Z"/>
<path d="M1466.2 637.9L1483.2 628.2L1483.2 647.6Z"/>
<path d="M1486.1 624L1503.1 614.3L1503.1 633.7Z"/>
<path d="M1500 585.7L1517 576L1517 595.4Z"/>
<path d="M1517.2 554.4L1534.2 544.7L1534.2 564.1Z"/>
<path d="M1524.8 515.2L1541.8 505.5L1541.8 524.9Z"/>
<path d="M1529.2 477.6L1546.2 467.9L1546.2 487.3Z"/>
<path d="M1531.7 427L1548.7 417.3L1548.7 436.7Z"/>
<path d="M1536.2 402.1L1553.2 392.4L1553.2 411.8Z"/>
<path d="M1541.4 375L1558.4 365.3L1558.4 384.7Z"/>
<path d="M1545.9 325.3L1562.9 315.6L1562.9 335Z"/>
<path d="M1547.4 284.7L1564.4 275L1564.4 294.4Z"/>
<path d="M1551.9 247.1L1568.9 237.4L1568.9 256.8Z"/>
<path d="M1554.7 207.6L1571.7 197.9L1571.7 217.3Z"/>
<path d="M1555.6 170.9L1572.6 161.2L1572.6 180.6Z"/>
<path d="M1558.6 132.4L1575.6 122.7L1575.6 142.1Z"/>
<path d="M1564.6 90.3L1581.6 80.6L1581.6 100Z"/>
<path d="M1574.9 117.4L1591.9 107.7L1591.9 127.1Z"/>
<path d="M1579.7 132.4L1596.7 122.7L1596.7 142.1Z"/>
<path d="M1584.8 170L1601.8 160.3L1601.8 179.7Z"/>
<path d="M1599.8 195L1616.8 185.3L1616.8 204.7Z"/>
<path d="M1604.4 204.6L1621.4 194.9L1621.4 214.3Z"/>
<path d="M1610.4 216.7L1627.4 207L1627.4 226.4Z"/>
<path d="M1613.6 283.2L1630.6 273.5L1630.6 292.9Z"/>
<path d="M1618.1 320.8L1635.1 311.1L1635.1 330.5Z"/>
<path d="M1621.1 360L1638.1 350.3L1638.1 369.7Z"/>
<path d="M1624.1 399L1641.1 389.3L1641.1 408.7Z"/>
<path d="M1626.1 449.6L1643.1 439.9L1643.1 459.3Z"/>
<path d="M1631.4 462L1648.4 452.3L1648.4 471.7Z"/>
<path d="M1635 511.6L1652 501.9L1652 521.3Z"/>
<path d="M1649.1 543.5L1666.1 533.8L1666.1 553.2Z"/>
<path d="M1666.9 564.7L1683.9 555L1683.9 574.4Z"/>
<path d="M1684.6 599.1L1701.6 589.4L1701.6 608.8Z"/>
<path d="M1705.8 617.7L1722.8 608L1722.8 627.4Z"/>
<path d="M1726 641.6L1743 631.9L1743 651.3Z"/>
<path d="M1748.4 631.9L1765.4 622.2L1765.4 641.6Z"/>
<path d="M1762.6 660.8L1779.6 651.1L1779.6 670.5Z"/>
<path d="M1859.1 650.5L1876.1 640.8L1876.1 660.2Z"/>
<path d="M1891.2 642.3L1908.2 632.6L1908.2 652Z"/>
<path d="M1942 660.8L1959 651.1L1959 670.5Z"/>
</g>
<g fill="#ff8810" fill-opacity="0.7" stroke="none">
<path d="M1351.8 660.8L1334.8 651.1L1334.8 670.5Z"/>
<path d="M1370.1 636.5L1353.1 626.8L1353.1 646.2Z"/>
<path d="M1395.1 607.4L1378.1 597.7L1378.1 617.1Z"/>
<path d="M1420.1 612.2L1403.1 602.5L1403.1 621.9Z"/>
<path d="M1439.3 584.3L1422.3 574.6L1422.3 594Z"/>
<path d="M1466.4 568.8L1449.4 559.1L1449.4 578.5Z"/>
<path d="M1471.2 539.3L1454.2 529.6L1454.2 549Z"/>
<path d="M1477.2 510.7L1460.2 501L1460.2 520.4Z"/>
<path d="M1481.8 471.6L1464.8 461.9L1464.8 481.3Z"/>
<path d="M1489.2 445.4L1472.2 435.7L1472.2 455.1Z"/>
<path d="M1493.8 403.6L1476.8 393.9L1476.8 413.3Z"/>
<path d="M1499.8 373.5L1482.8 363.8L1482.8 383.2Z"/>
<path d="M1505.8 341.9L1488.8 332.2L1488.8 351.6Z"/>
<path d="M1511.8 305.8L1494.8 296.1L1494.8 315.5Z"/>
<path d="M1516.3 275.7L1499.3 266L1499.3 285.4Z"/>
<path d="M1520.8 245.6L1503.8 235.9L1503.8 255.3Z"/>
<path d="M1531.2 212.2L1514.2 202.5L1514.2 221.9Z"/>
<path d="M1559.8 213L1542.8 203.3L1542.8 222.7Z"/>
<path d="M1570.5 241.1L1553.5 231.4L1553.5 250.8Z"/>
<path d="M1578 276.6L1561 266.9L1561 286.3Z"/>
<path d="M1580.4 307.9L1563.4 298.2L1563.4 317.6Z"/>
<path d="M1584 337.4L1567 327.7L1567 347.1Z"/>
<path d="M1590 375L1573 365.3L1573 384.7Z"/>
<path d="M1594.6 403.6L1577.6 393.9L1577.6 413.3Z"/>
<path d="M1600.6 430.7L1583.6 421L1583.6 440.4Z"/>
<path d="M1608.1 469.2L1591.1 459.5L1591.1 478.9Z"/>
<path d="M1629.2 512.2L1612.2 502.5L1612.2 521.9Z"/>
<path d="M1641.2 560.1L1624.2 550.4L1624.2 569.8Z"/>
<path d="M1655.3 607.2L1638.3 597.5L1638.3 616.9Z"/>
<path d="M1676.6 634.9L1659.6 625.2L1659.6 644.6Z"/>
<path d="M1711.5 649L1694.5 639.3L1694.5 658.7Z"/>
</g>
</g>
<path d="M1682.2 24H1737.2" stroke="#000" stroke-width="4.2" stroke-linecap="round"/>
<path d="M1682.2 58.3H1737.2" stroke="#f00" stroke-width="4.2" stroke-linecap="round"/>
<path d="M1682.2 92.2H1737.2" stroke="#00f" stroke-width="4.2" stroke-linecap="round"/>
<path d="M1680.7 123H1699.7M1719 123H1738.2" stroke="#007d00" stroke-opacity="0.6" stroke-width="1.8"/>
<path d="M1699.5 123L1715 113.4L1715 132.6Z" fill="#007d00" fill-opacity="0.62"/>
<path d="M1680.7 153.5H1699.7M1719.7 153.5H1738.2" stroke="#ff8810" stroke-opacity="0.6" stroke-width="1.8"/>
<path d="M1719.8 153.5L1704 143.9L1704 163.1Z" fill="#ff8810" fill-opacity="0.62"/>
<text x="1743.7" y="32.6" font-size="24.9">This work 2.04 g cm<tspan font-size="15.5" dy="-12.3">-3</tspan></text>
<text x="1743.7" y="66.6" font-size="24.9">This work 2.80 g cm<tspan font-size="15.5" dy="-12.3">-3</tspan></text>
<text x="1743.7" y="100.5" font-size="24.9">This work 3.48 g cm<tspan font-size="15.5" dy="-12.3">-3</tspan></text>
<text x="1743.7" y="130.6" font-size="24.9">Durandurdu, 2015</text>
<text x="1743.7" y="161.2" font-size="24.9">Durandurdu, 2020</text>
<text x="1075.3" y="694.8" font-size="25.6" text-anchor="middle">40</text>
<text x="1140.2" y="694.8" font-size="25.6" text-anchor="middle">50</text>
<text x="1205.2" y="694.8" font-size="25.6" text-anchor="middle">60</text>
<text x="1270.1" y="694.8" font-size="25.6" text-anchor="middle">70</text>
<text x="1335" y="694.8" font-size="25.6" text-anchor="middle">80</text>
<text x="1400" y="694.8" font-size="25.6" text-anchor="middle">90</text>
<text x="1464.9" y="694.8" font-size="25.6" text-anchor="middle">100</text>
<text x="1529.8" y="694.8" font-size="25.6" text-anchor="middle">110</text>
<text x="1594.8" y="694.8" font-size="25.6" text-anchor="middle">120</text>
<text x="1659.7" y="694.8" font-size="25.6" text-anchor="middle">130</text>
<text x="1724.7" y="694.8" font-size="25.6" text-anchor="middle">140</text>
<text x="1789.6" y="694.8" font-size="25.6" text-anchor="middle">150</text>
<text x="1854.5" y="694.8" font-size="25.6" text-anchor="middle">160</text>
<text x="1919.5" y="694.8" font-size="25.6" text-anchor="middle">170</text>
<text x="1984.4" y="694.8" font-size="25.6" text-anchor="middle">180</text>
<text transform="translate(1451.5 738.9) scale(1.17 1)" font-size="32" font-family="'Liberation Serif', serif">θ</text>
<text x="1469.5" y="738.3" font-size="32.1">(degrees)</text>
<text transform="translate(1050.7 315.9) rotate(-90)" font-size="33.2" text-anchor="middle">PAD</text>
<text x="1072.7" y="45" font-size="50" font-weight="bold" text-anchor="end">(b)</text>
<text x="1091.1" y="56.2" font-size="41.6">N-B-N</text>
</g>
</svg>
</body>
</html>
